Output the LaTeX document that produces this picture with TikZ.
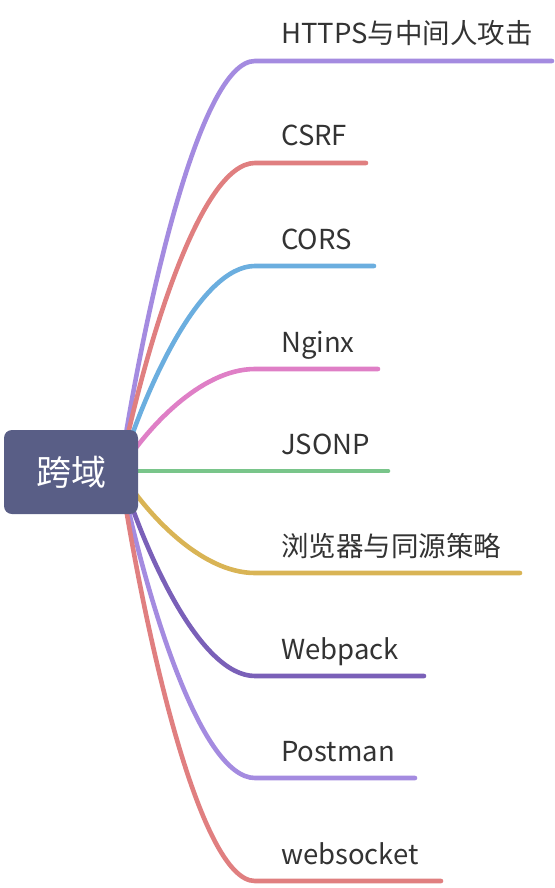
\documentclass[tikz,border=0pt]{standalone}
\usepackage{fontspec}
\setmainfont{Noto Sans CJK SC}
\usetikzlibrary{calc}
\definecolor{cpurple}{HTML}{A48BE0}
\definecolor{cred}{HTML}{E07F80}
\definecolor{cblue}{HTML}{6BAEDF}
\definecolor{cpink}{HTML}{DF7FC6}
\definecolor{cgreen}{HTML}{79C58A}
\definecolor{cyellow}{HTML}{D9B455}
\definecolor{cdpurple}{HTML}{7A60B8}
\definecolor{croot}{HTML}{595E86}
\definecolor{ctext}{HTML}{333333}
\tikzset{
  branchline/.style={line width=4.6pt, line cap=round},
  leaf/.style={anchor=base west, inner sep=0pt, text=ctext, font=\fontsize{27.5}{30}\selectfont},
  rootbox/.style={fill=croot, rounded corners=8pt, minimum width=134pt, minimum height=84pt, inner sep=0pt, text=white, font=\fontsize{35}{40}\selectfont}
}
\newcommand{\mybranch}[5]{%
  % #1 name, #2 color, #3 end y, #4 end x, #5 label
  \coordinate (#1k) at (255,#3);
  \coordinate (#1e) at (#4,#3);
  \draw[branchline, #2] (s) .. controls ($(s)+(25,{0.4*(#3-471)})$) and (200,#3) .. (#1k) -- (#1e);
  \node[leaf] (#1t) at (281,{#3-17}) {#5};
}
\begin{document}
\begin{tikzpicture}[x=1pt,y=-1pt]
\useasboundingbox (0,0) rectangle (554,888);
\coordinate (s) at (120,471);
\mybranch{b1}{cpurple}{61}{552}{HTTPS与中间人攻击}
\mybranch{b2}{cred}{163}{366}{CSRF}
\mybranch{b3}{cblue}{266}{374}{CORS}
\mybranch{b4}{cpink}{369}{378}{Nginx}
\coordinate (b5e) at (388,471);
\draw[branchline, cgreen] (s) -- (b5e);
\node[leaf] (b5t) at (281,454) {JSONP};
\mybranch{b6}{cyellow}{573}{520}{浏览器与同源策略}
\mybranch{b7}{cdpurple}{676}{424}{Webpack}
\mybranch{b8}{cpurple}{778}{415}{Postman}
\mybranch{b9}{cred}{881}{441}{websocket}
\node[rootbox] (root) at (71,472) {跨域};
\end{tikzpicture}
\end{document}
